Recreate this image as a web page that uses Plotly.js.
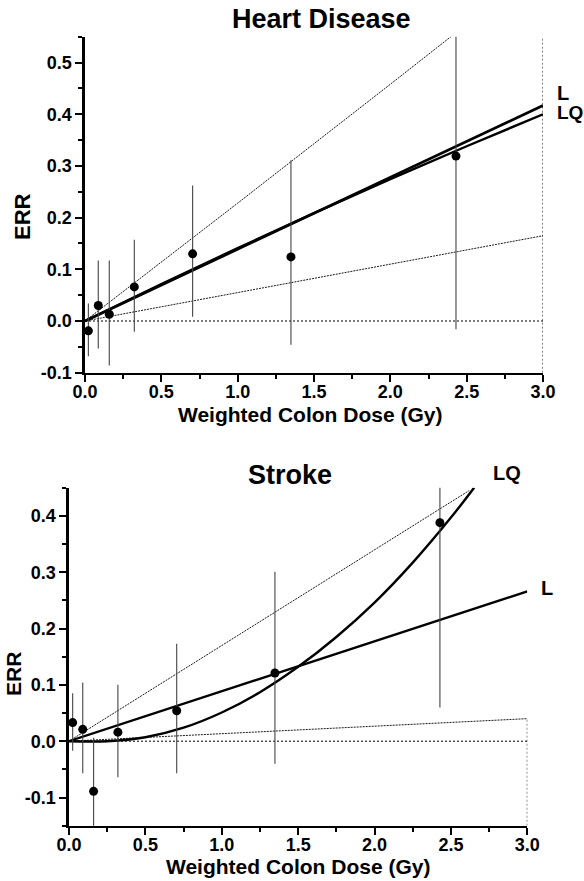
<!DOCTYPE html>
<html><head><meta charset="utf-8">
<script src="https://cdn.plot.ly/plotly-3.0.1.min.js"></script>
<style>html,body{margin:0;padding:0;background:#fff}#chart{width:584px;height:881px}</style>
</head><body><div id="chart"></div>
<script>
// ---------- Heart Disease ----------
const heartDose = [0.022, 0.087, 0.159, 0.323, 0.705, 1.349, 2.43];
const heartERR  = [-0.019, 0.030, 0.013, 0.066, 0.130, 0.124, 0.319];
const heartLow  = [-0.068, -0.053, -0.086, -0.021, 0.008, -0.046, -0.016];
const heartHigh = [0.034, 0.117, 0.117, 0.157, 0.262, 0.311, 0.75];
const heartFitX = [0, 0.5, 1.0, 1.5, 2.0, 2.5, 3.0];
const heartL    = [0, 0.0695, 0.139, 0.2085, 0.278, 0.3475, 0.417];
const heartLQ   = [0, 0.0715, 0.141, 0.2088, 0.2744, 0.3381, 0.400];
const heartCIX  = [0, 1.0, 2.0, 3.0];
const heartCIUpper = [0, 0.228, 0.458, 0.69];
const heartCILower = [0, 0.055, 0.110, 0.165];
// ---------- Stroke ----------
const strokeDose = [0.024, 0.090, 0.161, 0.320, 0.705, 1.348, 2.428];
const strokeERR  = [0.033, 0.021, -0.089, 0.016, 0.054, 0.121, 0.388];
const strokeLow  = [-0.017, -0.057, -0.20, -0.064, -0.057, -0.040, 0.060];
const strokeHigh = [0.085, 0.104, 0.006, 0.100, 0.173, 0.301, 0.50];
const strokeLX = [0, 3.0];
const strokeL  = [0, 0.266];
const strokeLQX = [0, 0.25, 0.5, 0.75, 1.0, 1.25, 1.5, 1.75, 2.0, 2.25, 2.5, 2.652];
const strokeLQ  = [0, 0.0, 0.007, 0.024, 0.051, 0.087, 0.132, 0.185, 0.246, 0.317, 0.397, 0.45];
const strokeCIUpperX = [0, 2.62];
const strokeCIUpper  = [0, 0.445];
const strokeCILowerX = [0, 3.0];
const strokeCILower  = [0, 0.04];
// ---------- ticks ----------
const xTickVals = [0, 0.5, 1.0, 1.5, 2.0, 2.5, 3.0];
const xTickText = ["0.0", "0.5", "1.0", "1.5", "2.0", "2.5", "3.0"];
const heartYTickVals = [-0.1, 0, 0.1, 0.2, 0.3, 0.4, 0.5];
const heartYTickText = ["-0.1", "0.0", "0.1", "0.2", "0.3", "0.4", "0.5"];
const strokeYTickVals = [-0.1, 0, 0.1, 0.2, 0.3, 0.4];
const strokeYTickText = ["-0.1", "0.0", "0.1", "0.2", "0.3", "0.4"];

const W = 584, H = 881;
const px = v => v / W, py = v => 1 - v / H;
const FONT = "Liberation Sans, Arial, Helvetica, sans-serif";

function sub(a, b) { return a.map((v, i) => v - b[i]); }

function panel(xa, ya, dose, err, lo, hi) {
  return {
    x: dose, y: err, xaxis: xa, yaxis: ya, type: 'scatter', mode: 'markers',
    marker: {color: '#000', size: 9},
    error_y: {type: 'data', symmetric: false, array: sub(hi, err), arrayminus: sub(err, lo),
              width: 0, thickness: 1.1, color: '#444'},
    showlegend: false, hoverinfo: 'skip'
  };
}
function line(xa, ya, x, y, w, dash, spline) {
  return {x: x, y: y, xaxis: xa, yaxis: ya, type: 'scatter', mode: 'lines',
          line: {color: '#000', width: w, dash: dash || 'solid', shape: spline ? 'spline' : 'linear'},
          showlegend: false, hoverinfo: 'skip'};
}
const ciDash = '2px,1px';
const zeroDash = '2px,2px';

const data = [
  line('x', 'y', [0, 3], [0, 0], 1, zeroDash),
  line('x', 'y', [3, 3], [-0.1, 0.55], 1, zeroDash),
  line('x', 'y', heartCIX, heartCIUpper, 0.9, ciDash),
  line('x', 'y', heartCIX, heartCILower, 0.9, ciDash),
  line('x', 'y', heartFitX, heartL, 2.8),
  line('x', 'y', heartFitX, heartLQ, 2.4, null, true),
  panel('x', 'y', heartDose, heartERR, heartLow, heartHigh),

  line('x2', 'y2', [0, 3], [0, 0], 1, zeroDash),
  line('x2', 'y2', [3, 3], [-0.15, 0.04], 1, zeroDash),
  line('x2', 'y2', strokeCIUpperX, strokeCIUpper, 0.9, ciDash),
  line('x2', 'y2', strokeCILowerX, strokeCILower, 0.9, ciDash),
  line('x2', 'y2', strokeLX, strokeL, 2.4),
  line('x2', 'y2', strokeLQX, strokeLQ, 2.4, null, true),
  panel('x2', 'y2', strokeDose, strokeERR, strokeLow, strokeHigh)
];

const tickFont = {family: FONT, size: 18, color: '#000', weight: 'bold'};
function xAxis(domain, anchor) {
  return {domain: domain, anchor: anchor, range: [0, 3], showgrid: false, zeroline: false,
    showline: true, linecolor: '#000', linewidth: 2.6, ticks: 'outside', ticklen: 7, tickwidth: 2,
    tickcolor: '#000', tickvals: xTickVals, ticktext: xTickText, tickfont: tickFont,
    ticklabelstandoff: -6,
    minor: {dtick: 0.25, tick0: 0, ticks: 'outside', ticklen: 4, tickwidth: 2, tickcolor: '#000', showgrid: false},
    fixedrange: true};
}
function yAxis(domain, anchor, range, vals, text) {
  return {domain: domain, anchor: anchor, range: range, showgrid: false, zeroline: false,
    showline: true, linecolor: '#000', linewidth: 2.6, ticks: 'outside', ticklen: 7, tickwidth: 2,
    tickcolor: '#000', tickvals: vals, ticktext: text, tickfont: tickFont,
    minor: {dtick: 0.05, tick0: 0, ticks: 'outside', ticklen: 4, tickwidth: 2, tickcolor: '#000', showgrid: false},
    fixedrange: true};
}
function ann(text, x, y, size, opts) {
  return Object.assign({text: text, x: px(x), y: py(y), xref: 'paper', yref: 'paper',
    showarrow: false, xanchor: 'center', yanchor: 'middle',
    font: {family: FONT, size: size, color: '#000', weight: 'bold'}}, opts || {});
}

const layout = {
  width: W, height: H, margin: {l: 0, r: 0, t: 0, b: 0},
  paper_bgcolor: '#fff', plot_bgcolor: '#fff', showlegend: false,
  xaxis: xAxis([px(85), px(543)], 'y'),
  yaxis: yAxis([py(372.7), py(36.7)], 'x', [-0.1, 0.55], heartYTickVals, heartYTickText),
  xaxis2: xAxis([px(69), px(527.3)], 'y2'),
  yaxis2: yAxis([py(825.7), py(487.7)], 'x2', [-0.15, 0.45], strokeYTickVals, strokeYTickText),
  annotations: [
    ann('Heart Disease', 321, 19, 27),
    ann('Weighted Colon Dose (Gy)', 310, 415, 21),
    ann('ERR', 22, 217, 22, {textangle: -90}),
    ann('L', 555, 93, 20, {xanchor: 'left'}),
    ann('LQ', 555, 112, 19, {xanchor: 'left'}),
    ann('Stroke', 290, 475, 27),
    ann('Weighted Colon Dose (Gy)', 298, 866, 21),
    ann('ERR', 13, 674, 21, {textangle: -90}),
    ann('LQ', 491, 473, 20, {xanchor: 'left'}),
    ann('L', 539, 588, 20, {xanchor: 'left'})
  ]
};

Plotly.newPlot('chart', data, layout, {staticPlot: true, displayModeBar: false});
</script>
</body></html>
